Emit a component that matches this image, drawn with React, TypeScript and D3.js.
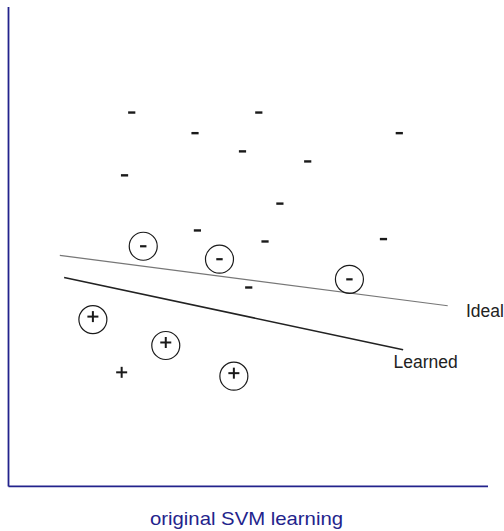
import React from "react";
import * as d3 from "d3";

const W = 504;
const H = 531;

// data units: 0..100 on both axes
const negatives: [number, number][] = [
  [25.7, 78.0], [52.2, 78.0], [38.9, 73.7], [81.5, 73.7], [48.8, 69.9],
  [62.4, 67.8], [24.2, 64.9], [56.6, 59.0], [39.4, 53.4], [53.5, 51.1],
  [78.2, 51.6], [50.1, 41.5],
];
const supportNeg: [number, number][] = [
  [28.1, 50.1], [44.0, 47.4], [71.1, 43.2],
];
const supportPos: [number, number][] = [
  [17.6, 34.8], [32.8, 29.4], [47.0, 23.0],
];
const positives: [number, number][] = [[23.6, 23.8]];

const idealLine: [number, number][] = [[10.7, 48.2], [91.6, 37.7]];
const learnedLine: [number, number][] = [[11.6, 43.6], [82.3, 28.5]];

const lineLabels = [
  { text: "Ideal", x: 95.4, y: 35.4 },
  { text: "Learned", x: 80.3, y: 24.8 },
];
const title = "original SVM learning";

export default function App() {
  const x = d3.scaleLinear().domain([0, 100]).range([8.5, 488]);
  const y = d3.scaleLinear().domain([0, 100]).range([486.4, 7.1]);
  const line = d3.line<[number, number]>().x((d) => x(d[0])).y((d) => y(d[1]));
  const ink = "#1a1a1a";
  const navy = "#23238c";

  const minus = (cx: number, cy: number, half: number, sw: number, key: string) => (
    <line key={key} x1={cx - half} x2={cx + half} y1={cy} y2={cy} stroke={ink} strokeWidth={sw} />
  );
  const plus = (cx: number, cy: number, half: number, sw: number, key: string) => (
    <g key={key}>
      <line x1={cx - half} x2={cx + half} y1={cy} y2={cy} stroke={ink} strokeWidth={sw} />
      <line x1={cx} x2={cx} y1={cy - half} y2={cy + half} stroke={ink} strokeWidth={sw} />
    </g>
  );

  return (
    <svg width={W} height={H} style={{ position: "absolute", left: 0, top: 0, background: "#fff" }}
      fontFamily="Liberation Sans, Arial, sans-serif">
      <rect width={W} height={H} fill="#fff" />
      {/* axes */}
      <line x1={x(0)} x2={x(0)} y1={y(100)} y2={y(0)} stroke={navy} strokeWidth={1.8} />
      <line x1={x(0)} x2={x(100)} y1={y(0)} y2={y(0)} stroke={navy} strokeWidth={1.8} />

      {/* separating lines */}
      <path d={line(idealLine) || ""} fill="none" stroke="#777" strokeWidth={1.1} />
      <path d={line(learnedLine) || ""} fill="none" stroke="#222" strokeWidth={1.6} />

      {negatives.map((d, i) => minus(x(d[0]), y(d[1]), 3.6, 2.4, "n" + i))}
      {supportNeg.map((d, i) => (
        <g key={"sn" + i}>
          <circle cx={x(d[0])} cy={y(d[1])} r={14} fill="none" stroke={ink} strokeWidth={1.2} />
          {minus(x(d[0]), y(d[1]), 3.2, 2.2, "snm" + i)}
        </g>
      ))}
      {supportPos.map((d, i) => (
        <g key={"sp" + i}>
          <circle cx={x(d[0])} cy={y(d[1])} r={14} fill="none" stroke={ink} strokeWidth={1.2} />
          {plus(x(d[0]), y(d[1]) - 3, 5.5, 2, "spp" + i)}
        </g>
      ))}
      {positives.map((d, i) => plus(x(d[0]), y(d[1]), 5.5, 2, "p" + i))}

      {lineLabels.map((l) => (
        <text key={l.text} x={x(l.x)} y={y(l.y)} fontSize={17.5} fill="#222">{l.text}</text>
      ))}

      <text x={246.5} y={525} textAnchor="middle" fontSize={18.5} fill={navy}
        textLength={193} lengthAdjust="spacingAndGlyphs">{title}</text>
    </svg>
  );
}
